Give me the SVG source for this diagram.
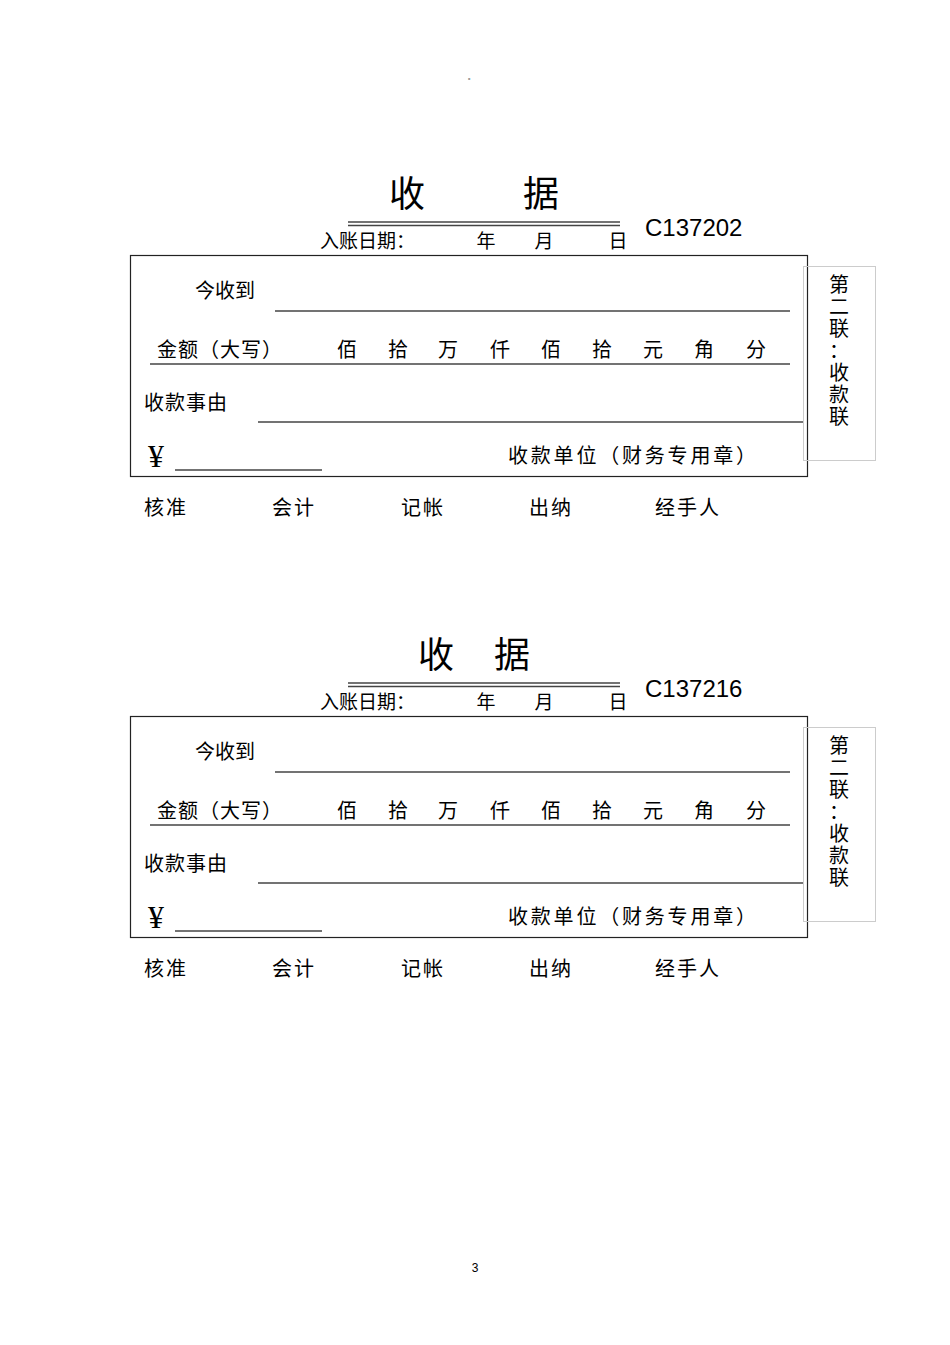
<svg xmlns="http://www.w3.org/2000/svg" width="950" height="1345" viewBox="0 0 950 1345">
<style>
text{font-family:"Liberation Serif","Noto Sans CJK SC",serif;fill:#000}
text.s{font-family:"Liberation Sans",sans-serif}
.t{font-size:20px}
.ln{stroke:#444;stroke-width:1.5}
.v{font-size:20px;text-anchor:middle}
</style>
<rect width="950" height="1345" fill="#fff"/>
<text x="471" y="79" font-size="6" text-anchor="middle">。</text>
<defs>
<g id="body">
<text x="320" y="248" font-size="19">入账日期：</text>
<text x="486" y="248" font-size="19" text-anchor="middle">年</text>
<text x="544" y="248" font-size="19" text-anchor="middle">月</text>
<text x="618" y="248" font-size="19" text-anchor="middle">日</text>
<line x1="348" y1="222" x2="620" y2="222" class="ln" stroke-width="1.2"/>
<line x1="348" y1="225.5" x2="620" y2="225.5" class="ln" stroke-width="1.2"/>
<rect x="130.5" y="255.5" width="677" height="221" fill="none" stroke="#222" stroke-width="1.2"/>
<text x="195" y="298" class="t">今收到</text>
<line x1="275" y1="311" x2="790" y2="311" class="ln"/>
<text x="157" y="357" class="t" letter-spacing="1">金额（大写）</text>
<text x="347" y="357" class="v">佰</text><text x="398" y="357" class="v">拾</text><text x="448" y="357" class="v">万</text><text x="500" y="357" class="v">仟</text><text x="551" y="357" class="v">佰</text><text x="602" y="357" class="v">拾</text><text x="653" y="357" class="v">元</text><text x="704" y="357" class="v">角</text><text x="756" y="357" class="v">分</text>
<line x1="150" y1="364" x2="790" y2="364" class="ln"/>
<text x="144" y="410" class="t" letter-spacing="1">收款事由</text>
<line x1="258" y1="422" x2="803" y2="422" class="ln"/>
<text x="148" y="467" font-size="32">¥</text>
<line x1="175" y1="470" x2="322" y2="470" class="ln"/>
<text x="508" y="463" class="t" letter-spacing="2.8">收款单位（财务专用章）</text>
<rect x="803.5" y="266.5" width="72" height="194" fill="none" stroke="#ccc" stroke-width="1"/>
<text x="839" y="292" class="v">第</text><text x="839" y="314" class="v">二</text><text x="839" y="336" class="v">联</text><text x="839" y="358" class="v">：</text><text x="839" y="380" class="v">收</text><text x="839" y="402" class="v">款</text><text x="839" y="424" class="v">联</text>
<text x="144" y="515" class="t" letter-spacing="2">核准</text>
<text x="272" y="515" class="t" letter-spacing="2">会计</text>
<text x="401" y="515" class="t" letter-spacing="2">记帐</text>
<text x="529" y="515" class="t" letter-spacing="2">出纳</text>
<text x="655" y="515" class="t" letter-spacing="2">经手人</text>
</g>
</defs>
<g id="receipt1">
<text x="407" y="207" font-size="36" text-anchor="middle">收</text>
<text x="541" y="207" font-size="36" text-anchor="middle">据</text>
<text x="645" y="236" font-size="24" class="s">C137202</text>
<use href="#body"/>
</g>
<g id="receipt2">
<text x="436" y="668" font-size="36" text-anchor="middle">收</text>
<text x="512" y="668" font-size="36" text-anchor="middle">据</text>
<text x="645" y="697" font-size="24" class="s">C137216</text>
<use href="#body" y="461"/>
</g>
<text x="475" y="1272" font-size="12" text-anchor="middle" class="s">3</text>
</svg>
